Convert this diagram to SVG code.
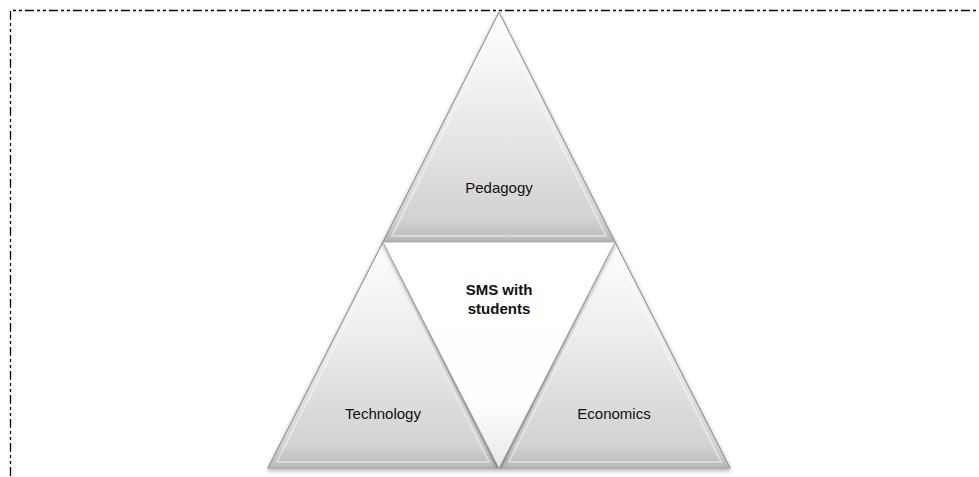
<svg xmlns="http://www.w3.org/2000/svg" width="979" height="477" viewBox="0 0 979 477">
<style>
.lbl{font-family:"Liberation Sans",Arial,sans-serif;font-size:15px;fill:#111;text-anchor:middle}
.bold{font-weight:bold}
.tri{fill:url(#g);stroke:#9a9a9a;stroke-width:1.2;filter:url(#sh)}
.mid{fill:url(#gm);stroke:#b4b4b4;stroke-width:1;filter:url(#sh)}
.bev{fill:none;stroke:#ffffff;stroke-opacity:0.4;stroke-width:2}
</style>
<defs>
<linearGradient id="g" x1="0" y1="0" x2="0" y2="1">
<stop offset="0" stop-color="#ffffff"/>
<stop offset="0.45" stop-color="#ebebeb"/>
<stop offset="0.9" stop-color="#d2d2d2"/>
<stop offset="1" stop-color="#b8b8b8"/>
</linearGradient>
<linearGradient id="gm" x1="0" y1="0" x2="0" y2="1">
<stop offset="0" stop-color="#ffffff"/>
<stop offset="0.7" stop-color="#fefefe"/>
<stop offset="1" stop-color="#e8e8e8"/>
</linearGradient>
<filter id="sh" x="-10%" y="-10%" width="120%" height="125%">
<feDropShadow dx="0" dy="2" stdDeviation="2" flood-color="#000" flood-opacity="0.35"/>
</filter>
</defs>
<path d="M10.5,476 V10.5 H979" fill="none" stroke="#000" stroke-width="1.3" stroke-dasharray="9,3,3,3,3,3"/>
<g id="pedagogy">
<polygon class="tri" points="499,12 383,242 615,242"/>
<polygon class="bev" points="499,20 392,236 606,236"/>
<text class="lbl" x="499" y="193">Pedagogy</text>
</g>
<g id="technology">
<polygon class="tri" points="383,242 268,468 498,468"/>
<polygon class="bev" points="383,250 277,462 489,462"/>
<text class="lbl" x="383" y="419">Technology</text>
</g>
<g id="economics">
<polygon class="tri" points="615,242 500,468 730,468"/>
<polygon class="bev" points="615,250 509,462 721,462"/>
<text class="lbl" x="614" y="419">Economics</text>
</g>
<g id="sms">
<polygon class="mid" points="383,242 615,242 499,468"/>
<text class="lbl bold" x="499" y="295">SMS with</text>
<text class="lbl bold" x="499" y="314">students</text>
</g>
<g id="connectors"></g>
</svg>
